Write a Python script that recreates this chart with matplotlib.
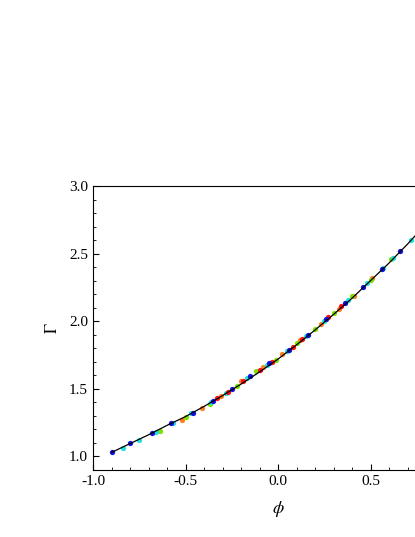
import matplotlib.pyplot as plt

plt.rcParams['font.family'] = ['Liberation Serif', 'DejaVu Serif']
plt.rcParams['mathtext.fontset'] = 'stix'

# fitted curve
line_x = [-0.9, -0.8, -0.7, -0.6, -0.5, -0.4, -0.3, -0.2, -0.1, 0.0, 0.1, 0.2, 0.3, 0.4, 0.5, 0.6, 0.7, 0.8, 0.9, 1.0]
line_y = [1.03, 1.095, 1.16, 1.23, 1.295, 1.37, 1.45, 1.535, 1.625, 1.72, 1.825, 1.935, 2.05, 2.17, 2.30, 2.43, 2.57, 2.72, 2.87, 3.02]

blue_x = [-0.9, -0.8, -0.68, -0.58, -0.46, -0.35, -0.25, -0.15, -0.05, 0.06, 0.16, 0.26, 0.36, 0.46, 0.56, 0.66]
blue_y = [1.03, 1.10, 1.17, 1.245, 1.325, 1.41, 1.50, 1.595, 1.69, 1.79, 1.90, 2.02, 2.135, 2.255, 2.385, 2.52]
cyan_x = [-0.84, -0.75, -0.66, -0.57, -0.47, -0.36, -0.28, -0.17, -0.06, 0.05, 0.15, 0.25, 0.38, 0.48, 0.57, 0.62, 0.72]
cyan_y = [1.065, 1.125, 1.18, 1.25, 1.32, 1.40, 1.47, 1.58, 1.68, 1.78, 1.89, 2.0, 2.16, 2.28, 2.39, 2.47, 2.60]
green_x = [-0.64, -0.5, -0.37, -0.22, -0.12, -0.01, 0.1, 0.2, 0.3, 0.4, 0.5, 0.61]
green_y = [1.19, 1.29, 1.39, 1.52, 1.63, 1.71, 1.84, 1.945, 2.06, 2.185, 2.305, 2.46]
orange_x = [-0.52, -0.41, -0.31, -0.2, -0.08, 0.02, 0.12, 0.23, 0.33, 0.41, 0.51]
orange_y = [1.27, 1.36, 1.445, 1.555, 1.66, 1.755, 1.86, 1.98, 2.09, 2.19, 2.32]
red_x = [-0.33, -0.27, -0.19, -0.1, -0.03, 0.08, 0.13, 0.27, 0.34]
red_y = [1.43, 1.48, 1.56, 1.64, 1.70, 1.81, 1.87, 2.03, 2.11]

fig = plt.figure(figsize=(4.15, 5.37), dpi=100)
ax = fig.add_axes([93 / 415, (537 - 470) / 537, 370 / 415, 284 / 537])

for xs, ys, c in [(orange_x, orange_y, '#ff8020'), (green_x, green_y, '#80e000'),
                  (cyan_x, cyan_y, '#20e0e0'), (red_x, red_y, '#ff1010'),
                  (blue_x, blue_y, '#1010e0')]:
    ax.plot(xs, ys, 'o', color=c, ms=3.8, mew=0, zorder=2)
ax.plot(line_x, line_y, color='black', lw=0.9, zorder=3)

ax.set_xlim(-1.0, 1.0)
ax.set_ylim(0.9, 3.0)
ax.set_xticks([-1.0, -0.5, 0.0, 0.5])
ax.set_xticks([-0.9, -0.8, -0.7, -0.6, -0.4, -0.3, -0.2, -0.1, 0.1, 0.2, 0.3, 0.4, 0.6, 0.7, 0.8, 0.9], minor=True)
ax.set_yticks([1.0, 1.5, 2.0, 2.5, 3.0])
ax.set_yticks([1.1, 1.2, 1.3, 1.4, 1.6, 1.7, 1.8, 1.9, 2.1, 2.2, 2.3, 2.4, 2.6, 2.7, 2.8, 2.9], minor=True)
ax.xaxis.set_major_formatter(plt.FormatStrFormatter('%.1f'))
ax.yaxis.set_major_formatter(plt.FormatStrFormatter('%.1f'))
ax.tick_params(direction='in', labelsize=11, length=4)
ax.tick_params(which='minor', direction='in', length=2)
ax.set_xlabel(r'$\phi$', fontsize=13, labelpad=8)
ax.set_ylabel(r'$\Gamma$', fontsize=12, labelpad=6)

fig.savefig('out.png', dpi=100)
